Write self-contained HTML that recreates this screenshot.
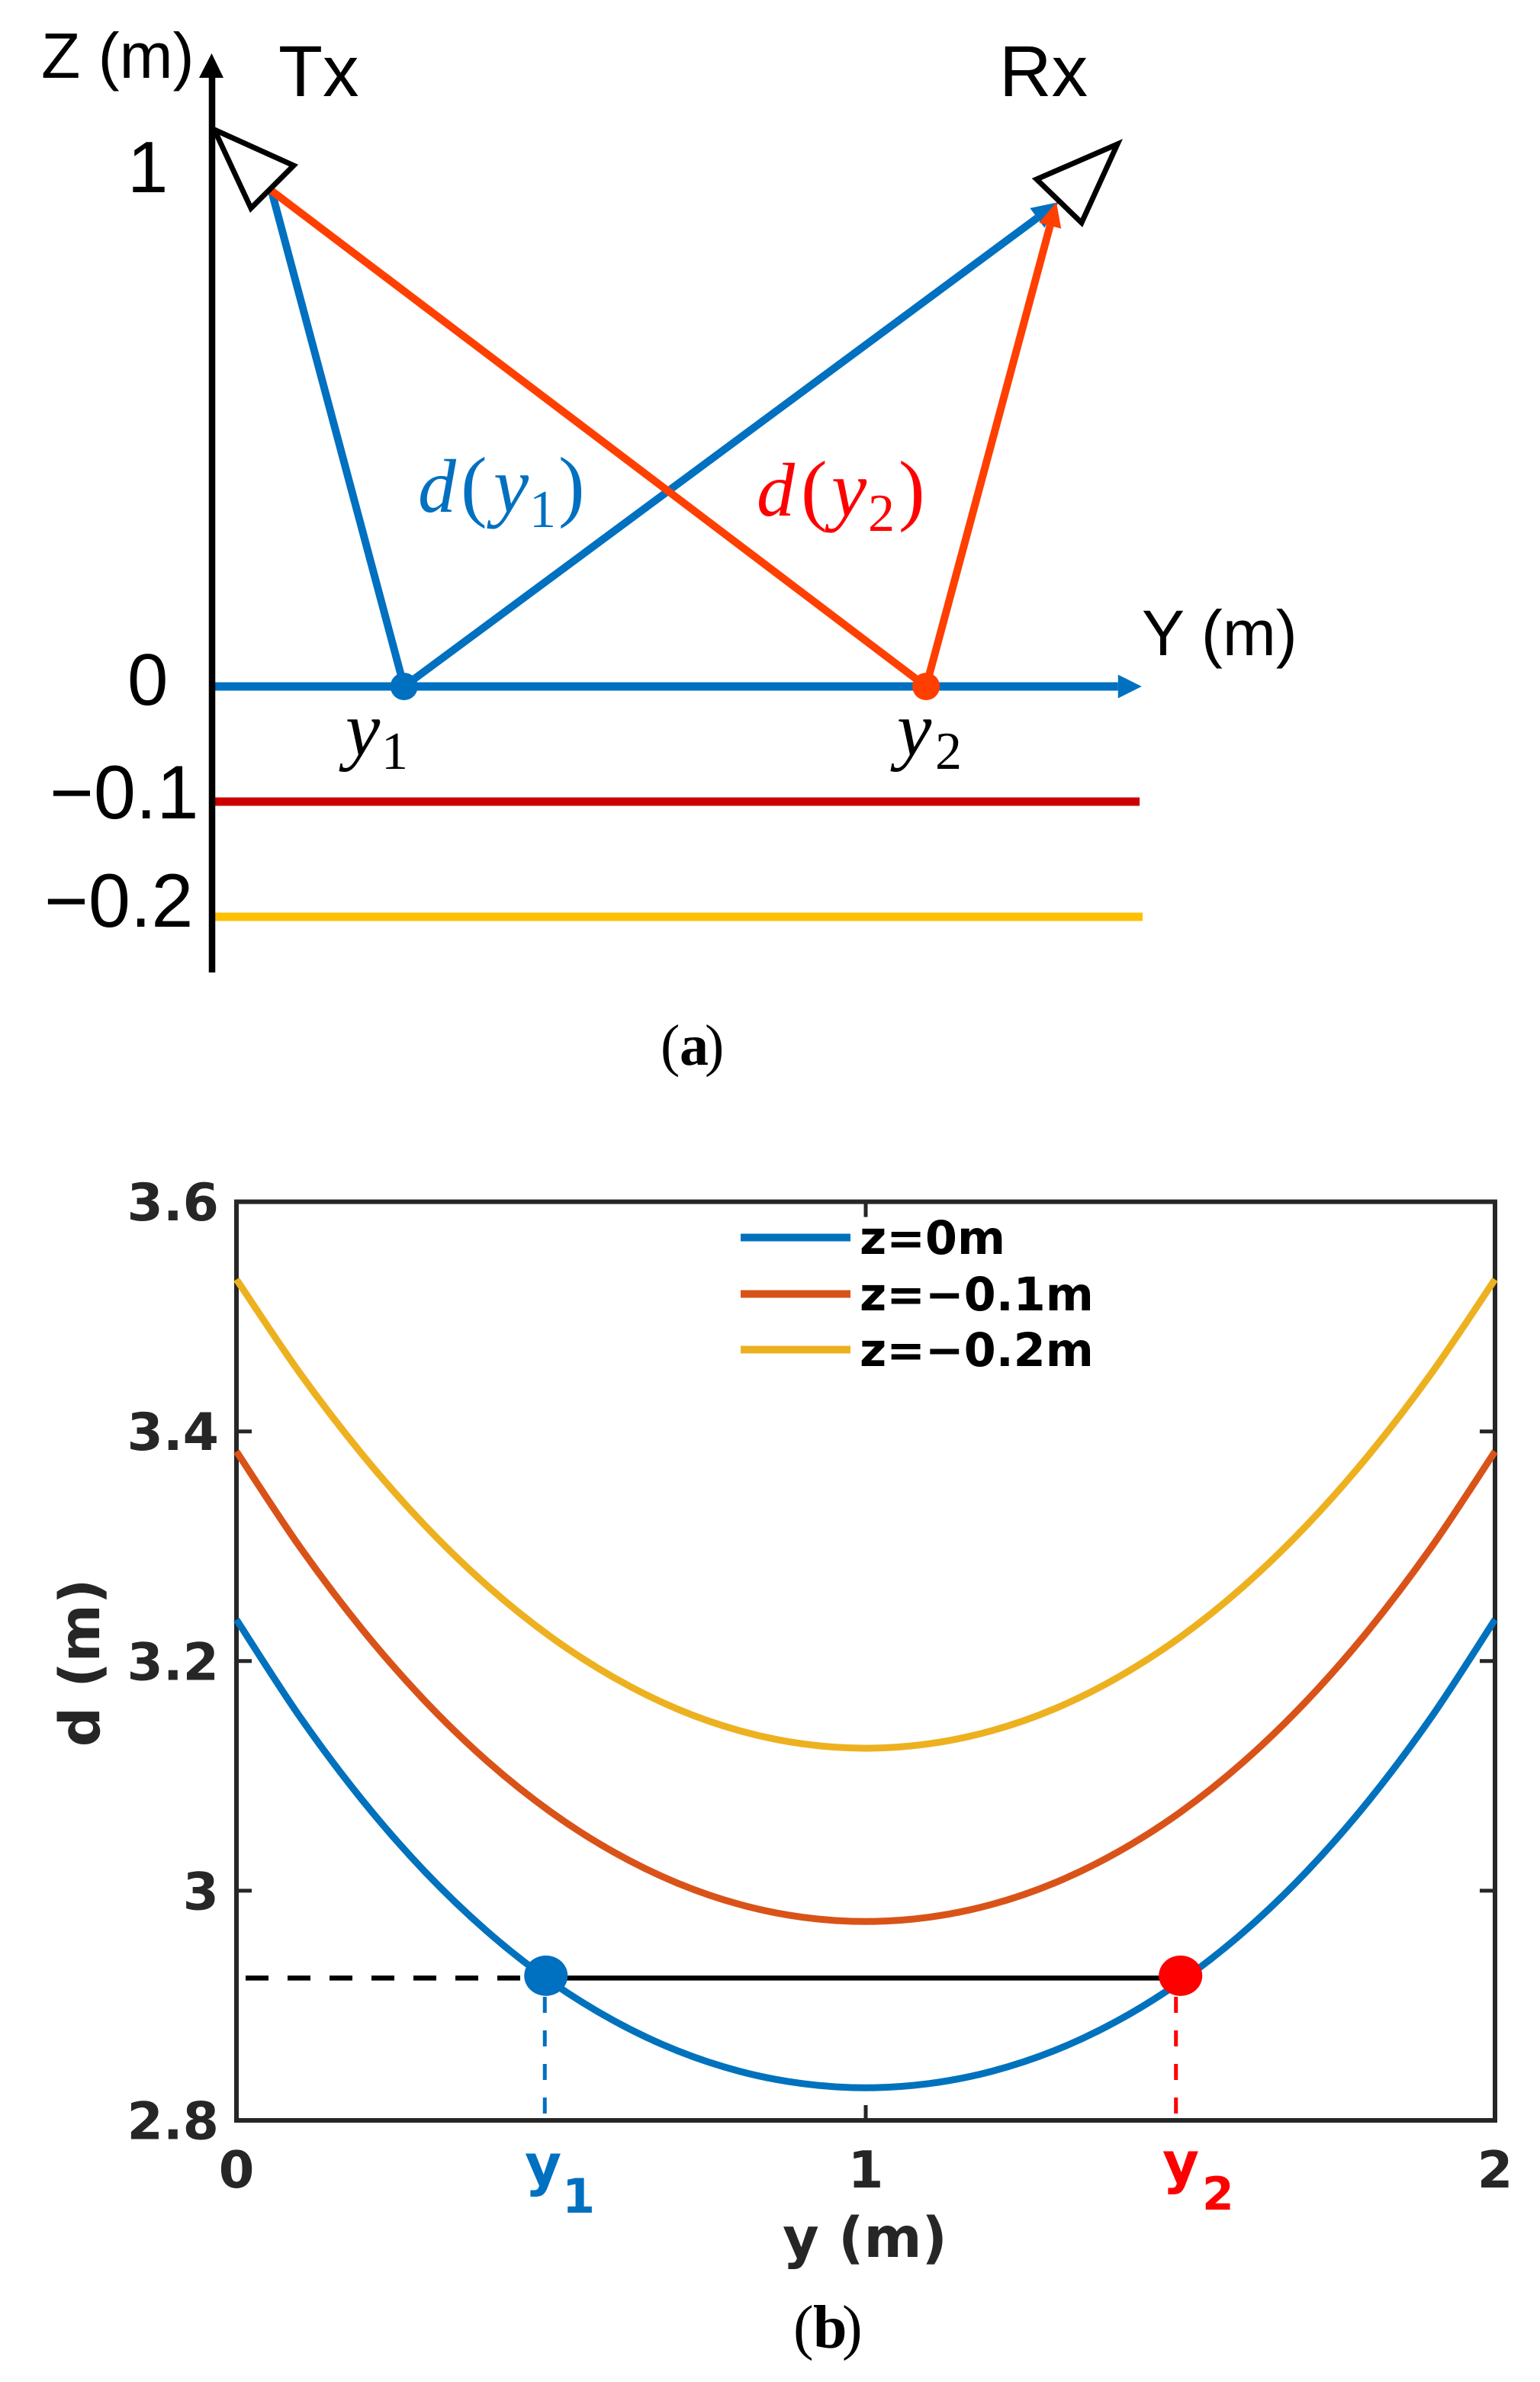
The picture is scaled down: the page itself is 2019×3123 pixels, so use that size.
<!DOCTYPE html>
<html lang="en">
<head>
<meta charset="utf-8">
<title>Tx-Rx path length diagram and chart</title>
<style>
html,body{margin:0;padding:0;background:#fff;}
svg{display:block;}
text{white-space:pre;}
.arial{font-family:"Liberation Sans",sans-serif;fill:#000;}
.serif{font-family:"Liberation Serif",serif;}
.dj{font-family:"DejaVu Sans",sans-serif;font-weight:bold;fill:#262626;}
</style>
</head>
<body>
<svg id="fig" xmlns="http://www.w3.org/2000/svg" width="2019" height="3123" viewBox="0 0 2019 3123">
  <rect x="0" y="0" width="2019" height="3123" fill="#fff"/>

  <g id="panel-a"></g>
  <g id="panel-a-text">
    <text class="arial" x="54" y="102" font-size="84">Z (m)</text>
    <text class="arial" x="1497" y="859" font-size="84">Y (m)</text>
    <text class="arial" x="365" y="126" font-size="95">Tx</text>
    <text class="arial" x="1310" y="126" font-size="95">Rx</text>
    <text class="arial" x="167" y="252" font-size="96">1</text>
    <text class="arial" x="167" y="924" font-size="96">0</text>
    <text class="arial" x="65" y="1073" font-size="99">−0.1</text>
    <text class="arial" x="58" y="1215" font-size="99">−0.2</text>

    <text class="serif" fill="#0070C0" font-size="100" y="671"><tspan x="548" font-style="italic">d</tspan><tspan x="604" font-size="104">(</tspan><tspan x="647" font-style="italic" font-size="104">y</tspan><tspan x="694" font-size="70" y="691">1</tspan><tspan x="732" y="671" font-size="104">)</tspan></text>
    <text class="serif" fill="#FF0000" font-size="100" y="676"><tspan x="992" font-style="italic">d</tspan><tspan x="1050" font-size="104">(</tspan><tspan x="1090" font-style="italic" font-size="104">y</tspan><tspan x="1138" font-size="70" y="696">2</tspan><tspan x="1178" y="676" font-size="104">)</tspan></text>

    <text class="serif" fill="#000" y="990"><tspan x="453" font-style="italic" font-size="102">y</tspan><tspan x="500" font-size="70" y="1008">1</tspan></text>
    <text class="serif" fill="#000" y="990"><tspan x="1176" font-style="italic" font-size="102">y</tspan><tspan x="1226" font-size="70" y="1008">2</tspan></text>

    <text class="serif" fill="#000" y="1396" font-size="76"><tspan x="866">(</tspan><tspan x="891" font-weight="bold">a</tspan><tspan x="924">)</tspan></text>
  </g>

  <g id="panel-b"></g>
  <g id="panel-b-text">
    <text class="dj" x="1134" y="2959" font-size="73" text-anchor="middle">y (m)</text>
    <text class="dj" transform="translate(130,2180) rotate(-90)" font-size="73" text-anchor="middle">d (m)</text>
    <text class="dj" style="fill:#0070C0" y="2864"><tspan x="688" font-size="74">y</tspan><tspan x="737" font-size="62" y="2901">1</tspan></text>
    <text class="dj" style="fill:#FF0000" y="2861"><tspan x="1524" font-size="74">y</tspan><tspan x="1576" font-size="60" y="2897">2</tspan></text>
    <text class="serif" fill="#000" y="3078" font-size="80"><tspan x="1040">(</tspan><tspan x="1066" font-weight="bold">b</tspan><tspan x="1104">)</tspan></text>
  </g>
</svg>

<script>
// ---------- Panel (b) data ----------
const positions = [0, 0.1, 0.2, 0.3, 0.4, 0.5, 0.6, 0.7, 0.8, 0.9, 1, 1.1, 1.2, 1.3, 1.4, 1.5, 1.6, 1.7, 1.8, 1.9, 2];
const distanceZ0 = [3.2361, 3.1521, 3.0789, 3.0163, 2.9638, 2.9208, 2.8867, 2.8608, 2.8427, 2.8320, 2.8284, 2.8320, 2.8427, 2.8608, 2.8867, 2.9208, 2.9638, 3.0163, 3.0789, 3.1521, 3.2361];
const distanceZ01 = [3.3825, 3.3000, 3.2275, 3.1650, 3.1121, 3.0684, 3.0335, 3.0068, 2.9880, 2.9769, 2.9732, 2.9769, 2.9880, 3.0068, 3.0335, 3.0684, 3.1121, 3.1650, 3.2275, 3.3000, 3.3825];
const distanceZ02 = [3.5324, 3.4514, 3.3799, 3.3178, 3.2649, 3.2209, 3.1856, 3.1584, 3.1393, 3.1279, 3.1241, 3.1279, 3.1393, 3.1584, 3.1856, 3.2209, 3.2649, 3.3178, 3.3799, 3.4514, 3.5324];
const seriesNames = ['z=0m', 'z=−0.1m', 'z=−0.2m'];
const xTickValues = [0, 1, 2];
const xTickLabels = ['0', '1', '2'];
const yTickValues = [2.8, 3, 3.2, 3.4, 3.6];
const yTickLabels = ['2.8', '3', '3.2', '3.4', '3.6'];
const markerPositions = [0.49, 1.493];
const markerDistance = 2.924;

// ---------- Panel (a) data (schematic units) ----------
const levelHeights = [0, -0.1, -0.2];
const levelEnds = [2.14, 2.191, 2.198];
const pointY = [0.455, 1.687];
const txPoint = [0.142, 1];
const rxPoint = [2, 0.977];

// ---------- Scales ----------
function xB(v) { return 310 + v * 825; }
function yB(v) { return 2780 - (v - 2.8) * 1505.5; }
function yA(v) { return 277 + v * 555.5; }
function zA(v) { return v >= 0 ? 900 - v * 650 : 900 - v * 1510; }

const NS = 'http://www.w3.org/2000/svg';
function make(parent, tag, attrs) {
  const node = document.createElementNS(NS, tag);
  for (const k in attrs) node.setAttribute(k, attrs[k]);
  parent.appendChild(node);
  return node;
}
function smoothPath(xs, ys) {
  const p = xs.map((x, i) => [xB(x), yB(ys[i])]);
  let d = 'M' + p[0][0] + ' ' + p[0][1];
  for (let i = 0; i < p.length - 1; i++) {
    const a = p[Math.max(i - 1, 0)], b = p[i], c = p[i + 1], e = p[Math.min(i + 2, p.length - 1)];
    d += ' C' + (b[0] + (c[0] - a[0]) / 6) + ' ' + (b[1] + (c[1] - a[1]) / 6) + ' ' +
         (c[0] - (e[0] - b[0]) / 6) + ' ' + (c[1] - (e[1] - b[1]) / 6) + ' ' + c[0] + ' ' + c[1];
  }
  return d;
}
function arrowHead(parent, tip, from, len, half, color) {
  const dx = tip[0] - from[0], dy = tip[1] - from[1], n = Math.hypot(dx, dy);
  const ux = dx / n, uy = dy / n;
  const bx = tip[0] - ux * len, by = tip[1] - uy * len;
  const pts = tip[0] + ',' + tip[1] + ' ' + (bx - uy * half) + ',' + (by + ux * half) + ' ' + (bx + uy * half) + ',' + (by - ux * half);
  return { node: make(parent, 'polygon', { points: pts, fill: color }), base: [bx, by] };
}

// ---------- Draw panel (a) ----------
const A = document.getElementById('panel-a');
const BLUE = '#0070C0', ORANGE = '#FF3F00';
const levelColors = [BLUE, '#CC0000', '#FFC000'];
const levelNames = ['level-z-0', 'level-z-minus-0-1', 'level-z-minus-0-2'];

levelHeights.forEach(function (z, i) {
  const line = make(A, 'line', { x1: yA(0), y1: zA(z), x2: yA(levelEnds[i]), y2: zA(z), stroke: levelColors[i], 'stroke-width': 11 });
  
  
});
const yArrow = make(A, 'polygon', { points: yA(levelEnds[0]) + ',' + (zA(0) - 15.5) + ' ' + (yA(levelEnds[0]) + 31) + ',' + zA(0) + ' ' + yA(levelEnds[0]) + ',' + (zA(0) + 15.5), fill: BLUE });



const zAxis = make(A, 'line', { x1: 278, y1: 95, x2: 278, y2: 1275, stroke: '#000', 'stroke-width': 8.5 });


const zArrow = make(A, 'polygon', { points: '277.5,70 261,102 293,102', fill: '#000' });



const tx = [yA(txPoint[0]), zA(txPoint[1])];
const rx = [yA(rxPoint[0]), zA(rxPoint[1])];
const p1 = [yA(pointY[0]), zA(0)];
const p2 = [yA(pointY[1]), zA(0)];

const rayTx1 = make(A, 'line', { x1: tx[0], y1: tx[1], x2: p1[0], y2: p1[1], stroke: BLUE, 'stroke-width': 10 });


const headBlue = arrowHead(A, rx, p1, 35, 16, BLUE);


const rayRx1 = make(A, 'line', { x1: p1[0], y1: p1[1], x2: headBlue.base[0], y2: headBlue.base[1], stroke: BLUE, 'stroke-width': 10 });



const rayTx2 = make(A, 'line', { x1: tx[0], y1: tx[1], x2: p2[0], y2: p2[1], stroke: ORANGE, 'stroke-width': 10 });


const rxOrange = [rx[0] - 3, rx[1]];
const headOrange = arrowHead(A, rxOrange, p2, 32, 15, ORANGE);


const rayRx2 = make(A, 'line', { x1: p2[0], y1: p2[1], x2: headOrange.base[0], y2: headOrange.base[1], stroke: ORANGE, 'stroke-width': 10 });



const dot1 = make(A, 'circle', { cx: p1[0], cy: p1[1], r: 18, fill: BLUE });


const dot2 = make(A, 'circle', { cx: p2[0], cy: p2[1], r: 18, fill: ORANGE });



const txShape = make(A, 'polygon', { points: '281,170 385,217 329,273', fill: '#fff', stroke: '#000', 'stroke-width': 7, 'stroke-linejoin': 'miter' });


const rxShape = make(A, 'polygon', { points: '1465,189 1359,235 1418,292', fill: 'none', stroke: '#000', 'stroke-width': 7, 'stroke-linejoin': 'miter' });



// ---------- Draw panel (b) ----------
const B = document.getElementById('panel-b');
const AXIS = '#262626';
const seriesData = [distanceZ0, distanceZ01, distanceZ02];
const seriesColors = ['#0072BD', '#D95319', '#EDB120'];
const seriesKeys = ['z-0', 'z-minus-0-1', 'z-minus-0-2'];

xTickValues.forEach(function (v, i) {
  const xPos = xB(v);
  if (v > 0 && v < 2) {
    const tb = make(B, 'line', { x1: xPos, y1: yB(2.8), x2: xPos, y2: yB(2.8) - 20, stroke: AXIS, 'stroke-width': 5 });
    
    
    const tt = make(B, 'line', { x1: xPos, y1: yB(3.6), x2: xPos, y2: yB(3.6) + 20, stroke: AXIS, 'stroke-width': 5 });
    
    
  }
  const lab = make(B, 'text', { class: 'dj', x: xPos, y: 2868, 'font-size': 67, 'text-anchor': 'middle' });
  lab.textContent = xTickLabels[i];
  
  
});
yTickValues.forEach(function (v, i) {
  const yPos = yB(v);
  if (v > 2.8 && v < 3.6) {
    const tl = make(B, 'line', { x1: xB(0), y1: yPos, x2: xB(0) + 20, y2: yPos, stroke: AXIS, 'stroke-width': 5 });
    
    
    const tr = make(B, 'line', { x1: xB(2), y1: yPos, x2: xB(2) - 20, y2: yPos, stroke: AXIS, 'stroke-width': 5 });
    
    
  }
  const lab = make(B, 'text', { class: 'dj', x: 287, y: yPos + 24.5, 'font-size': 68, 'text-anchor': 'end' });
  lab.textContent = yTickLabels[i];
  
  
});

const frame = make(B, 'rect', { x: xB(0), y: yB(3.6), width: xB(2) - xB(0), height: yB(2.8) - yB(3.6), fill: 'none', stroke: AXIS, 'stroke-width': 6 });



seriesData.forEach(function (vals, i) {
  const path = make(B, 'path', { d: smoothPath(positions, vals), fill: 'none', stroke: seriesColors[i], 'stroke-width': 9 });
  
  
});

const dashLeft = make(B, 'line', { x1: 322, y1: yB(markerDistance), x2: xB(markerPositions[0]), y2: yB(markerDistance), stroke: '#000', 'stroke-width': 6.5, 'stroke-dasharray': '30 25' });


const solidLine = make(B, 'line', { x1: xB(markerPositions[0]), y1: yB(markerDistance), x2: xB(markerPositions[1]), y2: yB(markerDistance), stroke: '#000', 'stroke-width': 6.5 });



const guideColors = ['#0070C0', '#FF0000'];
markerPositions.forEach(function (v, i) {
  const guide = make(B, 'line', { x1: xB(v), y1: 2618, x2: xB(v), y2: 2778, stroke: guideColors[i], 'stroke-width': 5, 'stroke-dasharray': '21 23' });
  
  
  const dot = make(B, 'ellipse', { cx: xB(v) + (i === 0 ? 1.5 : 6), cy: yB(markerDistance) - 3, rx: 28.5, ry: 26.5, fill: guideColors[i] });
  
  
});

// Legend
const legendBaselines = [1644, 1718, 1791];
seriesNames.forEach(function (name, i) {
  const swatch = make(B, 'line', { x1: 971, y1: legendBaselines[i] - 21.5, x2: 1115, y2: legendBaselines[i] - 21.5, stroke: seriesColors[i], 'stroke-width': 10 });
  
  
  const label = make(B, 'text', { class: 'dj', x: 1127, y: legendBaselines[i], 'font-size': 60.5, style: 'fill:#000' });
  label.textContent = name;
  
  
});
</script>
</body>
</html>
